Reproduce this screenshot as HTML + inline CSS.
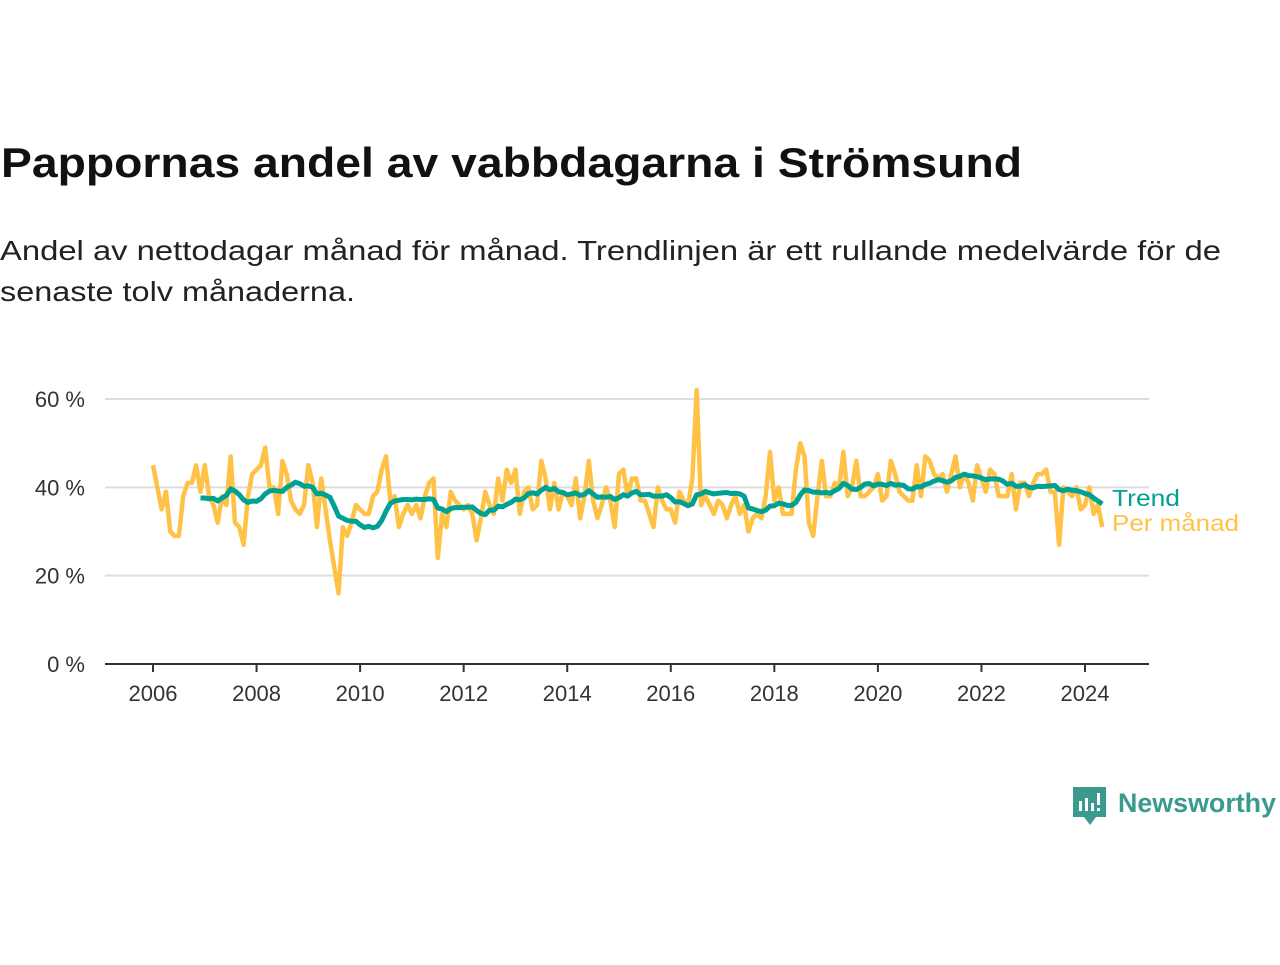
<!DOCTYPE html>
<html><head><meta charset="utf-8"><style>
body{margin:0;background:#fff;width:1280px;height:960px;overflow:hidden;font-family:"Liberation Sans","DejaVu Sans",sans-serif}
</style></head><body>
<svg width="1280" height="960" xmlns="http://www.w3.org/2000/svg">
<text x="1" y="177" font-size="42" font-weight="bold" fill="#111" font-family="Liberation Sans, sans-serif" textLength="1021" lengthAdjust="spacingAndGlyphs">Pappornas andel av vabbdagarna i Strömsund</text>
<text x="0" y="260" font-size="28" fill="#222" font-family="Liberation Sans, sans-serif" textLength="1221" lengthAdjust="spacingAndGlyphs">Andel av nettodagar månad för månad. Trendlinjen är ett rullande medelvärde för de</text>
<text x="0" y="301" font-size="28" fill="#222" font-family="Liberation Sans, sans-serif" textLength="355" lengthAdjust="spacingAndGlyphs">senaste tolv månaderna.</text>
<g id="grid"></g><g id="axes"></g><g id="series"></g>
<text x="1112" y="506" font-size="23" fill="#00a092" font-family="Liberation Sans, sans-serif" textLength="68" lengthAdjust="spacingAndGlyphs">Trend</text>
<text x="1112" y="531" font-size="23" fill="#ffc247" font-family="Liberation Sans, sans-serif" textLength="127" lengthAdjust="spacingAndGlyphs">Per månad</text>
<g>
<path d="M1073 787 h33 v30 h-10 l-6 8 l-6 -8 h-11 z" fill="#3a9a8d"/>
<rect x="1079" y="801" width="3" height="10" fill="#fff"/><rect x="1085" y="798" width="3" height="13" fill="#fff"/><rect x="1091" y="803" width="3" height="8" fill="#fff"/><rect x="1097" y="793" width="3" height="12" fill="#fff"/><rect x="1097" y="808" width="3" height="3" fill="#fff"/>
<text x="1118" y="812" font-size="27" font-weight="bold" fill="#3a9a8d" font-family="Liberation Sans, sans-serif" textLength="158" lengthAdjust="spacingAndGlyphs">Newsworthy</text>
</g>
</svg>
<script>
const monthly=[45,40,35,39,30,29,29,38,41,41,45,39,45,38,36,32,38,36,47,32,31,27,38,43,44,45,49,40,40,34,46,43,37,35,34,36,45,41,31,42,35,28,22,16,31,29,32,36,35,34,34,38,39,44,47,37,38,31,34,36,34,36,33,38,41,42,24,34,31,39,37,36,35,36,34,28,33,39,36,34,42,37,44,41,44,34,39,40,35,36,46,42,35,41,35,39,38,36,42,33,38,46,37,33,36,40,37,31,43,44,38,42,42,37,37,34,31,40,37,35,35,32,39,37,36,42,62,36,38,36,34,37,36,33,36,38,34,36,30,33,34,33,38,48,37,40,34,34,34,44,50,47,32,29,38,46,38,38,41,40,48,38,40,46,38,38,39,40,43,37,38,46,43,39,38,37,37,45,38,47,46,43,42,43,39,43,47,40,43,41,37,45,42,39,44,43,38,38,38,43,35,41,41,38,41,43,43,44,39,39,27,40,39,38,40,35,36,40,34,36,31];
const yTicks=[0,20,40,60];
const xTicks=[2006,2008,2010,2012,2014,2016,2018,2020,2022,2024];
const startYear=2006;
const NS='http://www.w3.org/2000/svg';
const X=m=>153+m*(1085-153)/216;
const Y=v=>664-v*(664-399)/60;
function mk(t,a,p){const e=document.createElementNS(NS,t);for(const k in a)e.setAttribute(k,a[k]);p.appendChild(e);return e;}
const grid=document.getElementById('grid'),axes=document.getElementById('axes'),ser=document.getElementById('series');
yTicks.forEach(v=>{
 if(v>0){const l=mk('line',{x1:105,x2:1149,y1:Y(v),y2:Y(v),stroke:'#ddd','stroke-width':2},grid);
 
 }
 const t=mk('text',{x:85,y:Y(v)+8,'text-anchor':'end','font-size':22,fill:'#333','font-family':'Liberation Sans, sans-serif'},axes);
 t.textContent=v+' %';
 
 
});
const base=mk('line',{x1:105,x2:1149,y1:664,y2:664,stroke:'#333','stroke-width':2},axes);


xTicks.forEach(y=>{
 const x=X((y-startYear)*12);
 mk('line',{x1:x,x2:x,y1:664,y2:672,stroke:'#333','stroke-width':2},axes);
 const t=mk('text',{x:x,y:701,'text-anchor':'middle','font-size':22,fill:'#333','font-family':'Liberation Sans, sans-serif'},axes);
 t.textContent=y;
 
 
});
const pm=mk('polyline',{points:monthly.map((v,i)=>X(i)+','+Y(v)).join(' '),fill:'none',stroke:'#ffc247','stroke-width':4.5,'stroke-linejoin':'round'},ser);


const trend=[];
for(let i=11;i<monthly.length;i++){let s=0;for(let j=i-11;j<=i;j++)s+=monthly[j];trend.push([i,s/12]);}
const tl=mk('polyline',{points:trend.map(p=>X(p[0])+','+Y(p[1])).join(' '),fill:'none',stroke:'#00a092','stroke-width':5,'stroke-linejoin':'round'},ser);


</script>
</body></html>
